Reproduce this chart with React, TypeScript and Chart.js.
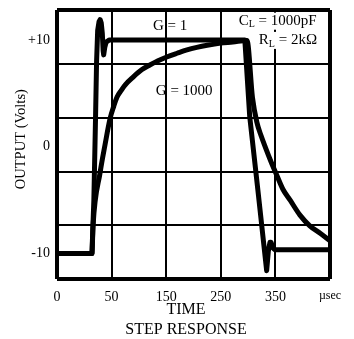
import React, { useEffect, useRef } from 'react';
import { Chart, registerables } from 'chart.js';

Chart.register(...registerables);

const FONT = '"Liberation Serif", "DejaVu Serif", serif';

// x in grid units (100 per division), y in volts
const X_TICKS = [0, 100, 200, 300, 400, 500];
const X_TICK_LABELS = ['0', '50', '150', '250', '350', 'µsec'];
const Y_TICKS = [-10, 0, 10];
const Y_TICK_LABELS = ['-10', '0', '+10'];

const G1_T = [0, 64, 67.5, 70.5, 72.5, 74.5, 77, 79, 81, 83, 84.5, 85.5, 87.5, 90, 96, 344, 353, 368, 384, 387, 390, 392, 396, 399, 500];
const G1_V = [-10, -10, -5, 2.5, 8, 10.9, 11.7, 11.9, 11.6, 10.6, 9.0, 8.6, 9.3, 9.8, 10, 10, 2.8, -4.1, -11.6, -9.8, -8.95, -8.95, -9.5, -9.65, -9.65];

const G1000_T = [0, 64, 66, 79, 88, 97, 104, 110, 118, 125, 139, 155, 170, 185, 201, 220, 238, 256, 275, 300, 322, 348, 358, 366, 374, 382, 392, 402, 414, 427, 445, 463, 482, 500];
const G1000_V = [-10, -10, -7.4, -2.4, 0.2, 2.6, 3.8, 4.65, 5.3, 5.8, 6.5, 7.2, 7.65, 8.05, 8.4, 8.75, 9.06, 9.3, 9.5, 9.7, 9.8, 9.95, 4.6, 2.3, 1.0, -0.1, -1.4, -2.6, -4.0, -5.0, -6.4, -7.4, -8.1, -8.8];

// annotation texts: [text, isSubscript]
const NOTE_G1: [string, boolean][] = [['G = 1', false]];
const NOTE_G1000: [string, boolean][] = [['G = 1000', false]];
const NOTE_CL: [string, boolean][] = [['C', false], ['L', true], [' = 1000pF', false]];
const NOTE_RL: [string, boolean][] = [['R', false], ['L', true], [' = 2kΩ', false]];

const NOTES = [
  { parts: NOTE_G1, x: 207, y: 11.3, bg: false },
  { parts: NOTE_G1000, x: 233, y: 5.2, bg: false },
  { parts: NOTE_CL, x: 404, y: 11.8, bg: true },
  { parts: NOTE_RL, x: 423, y: 10.0, bg: true },
];

const notesPlugin = {
  id: 'notes',
  afterDatasetsDraw(chart: any) {
    const ctx = chart.ctx;
    const xs = chart.scales.x;
    const ys = chart.scales.y;
    ctx.save();
    ctx.textBaseline = 'middle';
    ctx.textAlign = 'left';
    for (const n of NOTES) {
      const cx = xs.getPixelForValue(n.x);
      const cy = ys.getPixelForValue(n.y);
      let total = 0;
      const widths = n.parts.map(([t, sub]) => {
        ctx.font = `${sub ? 10 : 15}px ${FONT}`;
        const w = ctx.measureText(t).width;
        total += w;
        return w;
      });
      let px = cx - total / 2;
      if (n.bg) {
        ctx.fillStyle = '#fff';
        ctx.fillRect(px - 2, cy - 8, total + 4, 17);
      }
      ctx.fillStyle = '#000';
      n.parts.forEach(([t, sub], i) => {
        ctx.font = `${sub ? 10 : 15}px ${FONT}`;
        ctx.fillText(t, px, sub ? cy + 4 : cy);
        px += widths[i];
      });
    }
    ctx.restore();
  },
};

const edgeWidth = (last: number) => (ctx: any) => (ctx.index === 0 || ctx.index === last ? 4 : 2);
const noPad = (s: any) => {
  s.paddingTop = 0;
  s.paddingBottom = 0;
  s.paddingLeft = 0;
  s.paddingRight = 0;
};

export default function App() {
  const ref = useRef<HTMLCanvasElement | null>(null);
  useEffect(() => {
    if (!ref.current) return;
    const chart = new Chart(ref.current, {
      type: 'line',
      data: {
        datasets: [
          {
            label: 'G = 1',
            data: G1_T.map((x, i) => ({ x, y: G1_V[i] })),
            borderColor: '#000',
            borderWidth: 5,
            pointRadius: 0,
            tension: 0,
            borderJoinStyle: 'round',
            borderCapStyle: 'round',
          },
          {
            label: 'G = 1000',
            data: G1000_T.map((x, i) => ({ x, y: G1000_V[i] })),
            borderColor: '#000',
            borderWidth: 5,
            pointRadius: 0,
            cubicInterpolationMode: 'monotone',
            borderJoinStyle: 'round',
            borderCapStyle: 'round',
          },
        ],
      },
      options: {
        animation: false,
        responsive: false,
        devicePixelRatio: 1,
        layout: { padding: { left: 18, right: 0, top: 10, bottom: 0 } },
        plugins: {
          legend: { display: false },
          tooltip: { enabled: false },
          title: {
            display: true,
            position: 'bottom',
            text: ['TIME', 'STEP RESPONSE'],
            color: '#000',
            font: { family: FONT, size: 16, weight: 'normal' },
            padding: { top: -3.6, bottom: 0 },
          },
        },
        scales: {
          x: {
            type: 'linear',
            min: 0,
            max: 500,
            position: 'bottom',
            afterBuildTicks: (s: any) => {
              s.ticks = X_TICKS.map((v) => ({ value: v }));
            },
            afterFit: (s: any) => {
              s.height = 25;
              noPad(s);
            },
            ticks: {
              autoSkip: false,
              maxRotation: 0,
              padding: 9.5,
              color: '#000',
              font: (c: any) => ({ family: FONT, size: c.index === 5 ? 12 : 14 }),
              callback: (v: any) => X_TICK_LABELS[X_TICKS.indexOf(v)],
            },
            grid: { color: '#000', lineWidth: edgeWidth(5), drawTicks: false },
            border: { display: false },
          },
          y: {
            type: 'linear',
            min: -12.4,
            max: 12.8,
            position: 'left',
            afterBuildTicks: (s: any) => {
              s.ticks = Y_TICKS.map((v) => ({ value: v }));
            },
            afterFit: (s: any) => {
              s.width = 39;
              noPad(s);
            },
            ticks: {
              padding: 7,
              color: '#000',
              font: { family: FONT, size: 14 },
              callback: (v: any) => Y_TICK_LABELS[Y_TICKS.indexOf(v)],
            },
            grid: { display: false, drawTicks: false },
            border: { display: false },
            title: {
              display: true,
              text: '   OUTPUT (Volts)',
              color: '#000',
              font: { family: FONT, size: 14.5 },
              padding: { top: -6, bottom: 0 },
            },
          },
          yg: {
            type: 'linear',
            min: 0,
            max: 5,
            position: 'right',
            afterFit: (s: any) => {
              s.width = 24;
              noPad(s);
            },
            ticks: { display: false, stepSize: 1 },
            grid: { color: '#000', lineWidth: edgeWidth(5), drawTicks: false },
            border: { display: false },
          },
        },
      },
      plugins: [notesPlugin],
    } as any);
    return () => chart.destroy();
  }, []);

  return (
    <div style={{ position: 'fixed', left: 0, top: 0, width: 354, height: 339, background: '#fff' }}>
      <canvas ref={ref} width={354} height={339} style={{ display: 'block', width: 354, height: 339 }} />
    </div>
  );
}
